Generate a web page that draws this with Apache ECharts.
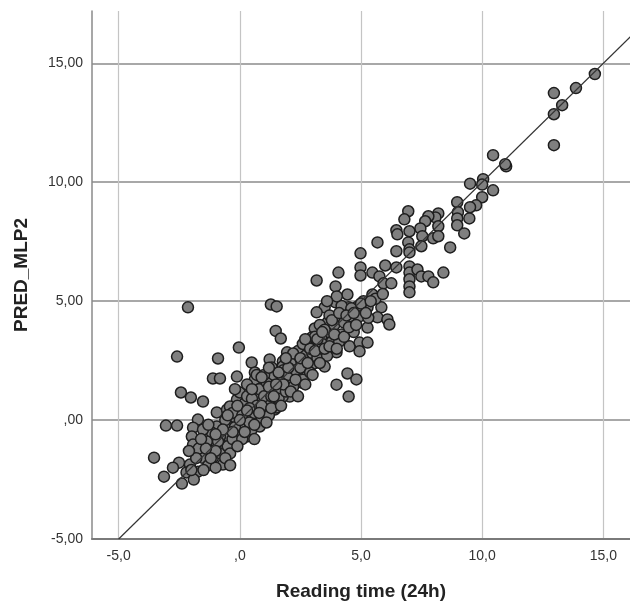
<!DOCTYPE html>
<html>
<head>
<meta charset="utf-8">
<script src="https://cdn.jsdelivr.net/npm/echarts@6/dist/echarts.min.js"></script>
<style>html,body{margin:0;padding:0;background:#fff}#c{width:630px;height:604px}</style>
</head>
<body>
<div id="c"></div>
<script>
const xTickValues = [-5, 0, 5, 10, 15];
const yTickValues = [-5, 0, 5, 10, 15];
const xAxisTitle = 'Reading time (24h)';
const yAxisTitle = 'PRED_MLP2';
const refLine = [[-5, -5], [17, 17]];

const readingTime = [
14.65,13.87,13.3,12.96,12.96,12.96,
10.45,10.99,10.95,10.04,9.5,10.0,10.45,10.0,9.75,9.5,8.97,9.0,8.97,9.47,8.97,9.26,8.19,8.07,7.78,8.19,7.65,6.95,6.79,7.45,7.0,6.46,6.5,7.53,7.98,8.19,6.95,7.49,7.0,8.68,6.46,5.68,4.98,7.0,6.0,6.46,7.0,7.0,7.0,7.0,7.0,7.33,7.49,7.78,7.98,8.4,4.98,4.98,5.47,5.76,5.93,6.25,4.07,3.95,4.44,5.47,
3.17,4.86,4.49,5.27,5.84,5.68,6.09,6.17,3.95,3.5,3.17,1.28,1.52,1.48,3.62,4.07,4.53,4.94,5.27,3.09,2.96,3.37,3.79,4.2,4.53,4.94,5.27,4.94,3.99,3.58,3.17,2.59,2.47,2.14,1.77,1.95,2.96,3.5,3.0,2.76,2.35,2.55,1.77,1.23,1.32,1.36,0.95,0.7,1.15,1.65,2.14,2.06,1.65,1.23,0.82,0.95,1.44,0.53,0.49,0.62,3.99,4.44,4.81,4.49,1.69,
-2.59,-0.9,-0.04,-1.11,-0.82,-2.43,-2.02,-1.52,-3.05,-2.59,-3.54,-3.13,-2.51,-2.39,-2.76,-2.06,-1.73,-1.73,-1.93,-1.98,-1.93,-1.52,-1.56,-1.11,-0.7,-1.11,-0.7,-0.95,-0.53,-0.49,-0.08,-0.82,-1.15,-1.36,-1.52,-0.95,-0.53,-0.12,0.0,-0.41,-0.2,0.41,0.29,0.0,0.29,0.49,0.7,0.82,1.11,1.11,0.62,0.82,1.23,1.52,1.32,1.52,1.77,1.85,0.62,1.77,-0.12,0.0,-2.14,
-1.3,-1.0,-0.8,-0.5,-0.3,-0.2,-0.6,-0.3,0.1,0.2,0.3,0.4,0.5,0.6,0.7,0.8,0.9,1.0,1.0,1.1,1.2,1.3,1.4,1.5,1.6,1.7,1.8,1.9,2.0,2.1,2.2,2.3,2.4,2.5,2.6,2.7,2.8,2.9,3.0,3.1,3.2,3.3,3.4,3.5,3.6,3.7,3.8,3.9,4.1,4.2,4.3,4.6,4.7,5.1,5.3,5.6,5.9,4.0,3.6,0.3,-0.2,0.1,0.6,-0.4,-1.7,-1.3,-2.2,-1.9,-1.2,
0.2,0.4,0.5,0.7,0.9,1.0,1.2,1.3,1.4,1.6,1.7,1.8,2.0,2.1,2.2,2.3,2.5,2.6,2.7,2.8,2.9,3.0,3.1,3.2,3.3,3.4,3.5,3.7,3.8,3.9,4.0,4.1,4.3,4.4,4.5,4.7,4.8,5.0,5.2,5.4,
-0.1,-0.3,-0.5,-0.7,-0.9,-1.0,-1.2,-1.4,-1.6,-1.8,-2.0,-0.6,-0.4,-1.0,0.0,0.3,0.6,0.9,1.1,1.5,1.9,2.4,2.7,0.8,-0.1,1.2,-1.5,-2.1
];
const predMLP2 = [
14.55,13.96,13.24,13.75,12.86,11.56,
11.14,10.67,10.76,10.13,9.94,9.9,9.66,9.37,9.03,8.95,9.16,8.74,8.48,8.48,8.19,7.85,8.69,8.52,8.57,8.15,8.36,8.78,8.44,8.06,7.94,7.98,7.81,7.73,7.64,7.73,7.47,7.31,7.18,7.26,7.1,7.47,7.01,7.05,6.5,6.42,6.46,6.2,5.92,5.62,5.37,6.33,6.04,6.04,5.79,6.2,6.42,6.08,6.2,6.04,5.75,5.75,6.2,5.62,5.28,5.28,
5.87,4.78,4.74,4.74,4.74,4.32,4.23,4.02,4.95,4.74,4.53,4.86,4.78,3.75,4.11,4.28,4.36,4.36,3.89,3.85,3.47,3.52,3.6,3.6,3.1,3.26,3.26,2.89,2.85,2.97,3.1,2.97,2.63,2.46,2.46,2.85,2.55,2.25,2.34,2.0,1.92,1.58,1.83,2.55,2.21,1.71,1.71,1.28,1.2,1.37,1.58,0.99,0.74,0.74,0.86,0.36,0.44,0.44,2.42,2.0,1.49,1.96,1.71,0.99,3.43,
2.67,2.59,3.05,1.75,1.75,1.16,0.95,0.78,-0.23,-0.23,-1.58,-2.38,-1.79,-2.67,-2.0,-1.87,-2.17,0.02,-0.32,-0.69,-1.03,-1.33,-1.58,-1.58,-1.87,-1.03,-1.12,-0.27,-0.19,-0.69,-0.53,-0.69,-0.53,-0.9,-0.4,0.32,0.44,0.86,1.16,0.57,0.11,0.44,0.02,-0.27,-0.69,-0.4,0.15,-0.27,0.15,0.57,0.74,0.99,0.86,0.53,1.28,1.58,0.99,1.41,1.71,2.25,1.83,0.53,4.74,
-1.9,-2.0,-1.4,-1.1,-0.8,-0.3,0.0,0.3,0.2,0.7,1.0,-0.1,0.9,0.3,0.6,1.3,0.1,1.0,0.4,1.6,0.2,1.0,1.9,1.2,0.9,1.6,2.1,1.2,1.9,2.4,1.4,2.1,2.9,2.2,1.7,2.7,3.1,2.0,2.8,3.5,2.6,4.0,3.2,3.8,2.7,4.4,3.3,4.0,3.3,4.8,4.1,4.7,3.7,5.0,4.3,5.1,5.3,5.2,5.0,1.5,1.3,-0.8,-0.8,-1.4,-1.2,-0.2,-2.2,-2.5,-1.3,
-0.5,0.5,1.3,1.9,0.6,1.9,1.4,0.5,1.0,2.0,0.6,1.5,2.2,1.2,2.8,1.7,2.6,3.2,1.5,2.4,3.0,1.9,2.9,3.4,2.4,3.7,3.0,3.1,4.2,3.6,3.0,4.5,3.5,4.4,3.9,4.5,4.0,4.9,4.5,5.0,
0.6,-0.5,0.2,-0.4,-0.9,-1.3,-1.6,-1.2,-0.8,-1.6,-2.1,-1.6,-1.9,-0.6,0.0,0.4,-0.2,1.8,-0.1,1.5,2.6,1.0,3.4,0.3,-1.1,2.2,-2.1,-1.3
];

const points = readingTime.map((x, i) => [x, predMLP2[i]]);

function fmt(v, d) {
  let s = Math.abs(v).toFixed(d).replace('.', ',');
  if (s.startsWith('0,')) s = s.slice(1);
  return (v < 0 ? '-' : '') + s;
}

const chart = echarts.init(document.getElementById('c'), null, {renderer: 'canvas'});
chart.setOption({
  animation: false,
  backgroundColor: '#ffffff',
  grid: {left: 92, right: 0, top: 11, bottom: 65, containLabel: false, outerBoundsMode: 'none'},
  xAxis: {
    type: 'value', min: -6.1, max: 16.1,
    name: xAxisTitle, nameLocation: 'middle', nameGap: 43,
    nameTextStyle: {fontFamily: 'Liberation Sans, Arial', fontSize: 19, fontWeight: 'bold', color: '#222'},
    axisLine: {show: true, onZero: false, lineStyle: {color: '#7a7a7a', width: 2}},
    axisTick: {show: false, customValues: xTickValues},
    axisLabel: {customValues: xTickValues, formatter: v => fmt(v, 1), fontFamily: 'Liberation Sans, Arial', fontSize: 14, color: '#333', margin: 10},
    splitLine: {show: true, lineStyle: {color: '#c4c4c4', width: 1.2}}
  },
  yAxis: {
    type: 'value', min: -5, max: 17.2,
    name: yAxisTitle, nameLocation: 'middle', nameGap: 61,
    nameTextStyle: {fontFamily: 'Liberation Sans, Arial', fontSize: 19, fontWeight: 'bold', color: '#222'},
    axisLine: {show: true, onZero: false, lineStyle: {color: '#8a8a8a', width: 1.5}},
    axisTick: {show: false, customValues: yTickValues},
    axisLabel: {customValues: yTickValues, formatter: v => fmt(v, 2), fontFamily: 'Liberation Sans, Arial', fontSize: 14, color: '#333', margin: 9},
    splitLine: {show: true, lineStyle: {color: '#a8a8a8', width: 2}}
  },
  series: [
    {
      type: 'scatter', data: points, symbol: 'circle', symbolSize: 11,
      itemStyle: {color: '#7f7f7f', borderColor: '#1e1e1e', borderWidth: 1.5, opacity: 1},
      z: 2
    },
    {
      type: 'line', data: refLine, showSymbol: false, symbol: 'none', clip: true,
      lineStyle: {color: '#333', width: 1.2}, z: 3, silent: true
    }
  ]
});
</script>
</body>
</html>
